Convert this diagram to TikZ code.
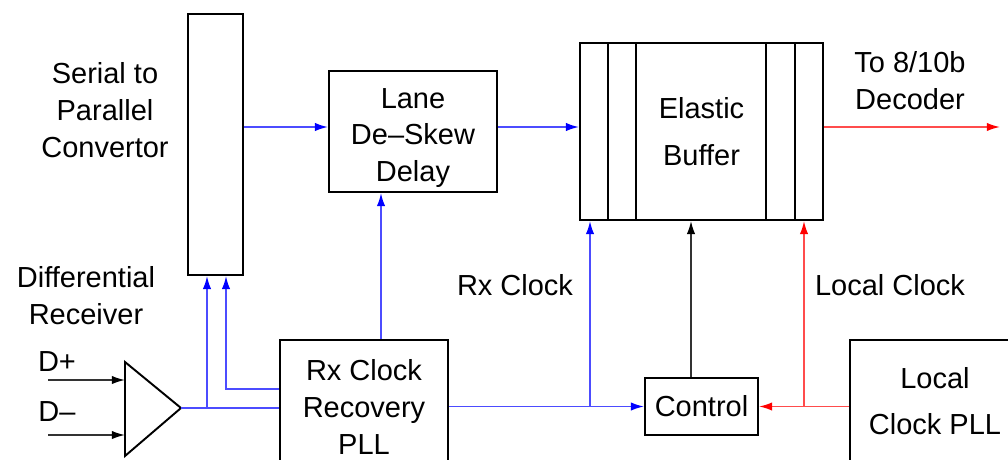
\documentclass[tikz,border=0pt]{standalone}
\usepackage{fontspec}
\setmainfont{Liberation Sans}
\usepackage{tikz}
\usetikzlibrary{arrows.meta,calc}

\begin{document}
\begin{tikzpicture}[y=-0.02cm,x=0.02cm,
    txt/.style={font=\fontsize{16.5}{21}\selectfont,align=center,inner sep=0pt},
    blk/.style={draw,line width=1.1pt,inner sep=0pt,font=\fontsize{16.5}{21}\selectfont,align=center},
    bsig/.style={blue!70,line width=1pt,-{Latex[blue,length=7.5pt,width=4.8pt]}},
    rsig/.style={red!70,line width=1pt,-{Latex[red,length=7.5pt,width=4.8pt]}},
    ksig/.style={black!80,line width=0.9pt,-{Latex[black,length=7.5pt,width=4.8pt]}}]
  \useasboundingbox (0,0) rectangle (1008,460);
  % blocks
  \node[blk,minimum width=1.10cm,minimum height=5.22cm] (s2p) at (215.5,144.5) {};
  \node[blk,minimum width=3.36cm,minimum height=2.42cm] (lane) at (413,131.5) {};
  \node[txt] (lanetxt) at (413,138) {Lane\\De--Skew\\Delay};
  \node[blk,minimum width=4.86cm,minimum height=3.54cm] (ebuf) at (701.5,131.5) {Elastic\\[6pt]Buffer};
  \foreach \x in {608,636,766,795} \draw[line width=0.8pt] (\x,43)--(\x,220);
  \node[blk,minimum width=3.36cm,minimum height=2.68cm] (rxpll) at (364,407) {Rx Clock\\Recovery\\PLL};
  \node[blk,minimum width=2.26cm,minimum height=1.14cm] (ctrl) at (701.5,406.5) {Control};
  \node[blk,minimum width=3.4cm,minimum height=2.8cm] (lpll) at (935,410) {};
  \node[txt] (lplltxt) at (935,401) {Local\\[5pt]Clock PLL};
  % receiver
  \draw[line width=1.1pt] (125,362)--(181,408)--(125,456)--cycle;
  \coordinate (amp) at (181,408);
  \coordinate (ampp) at (125,380);
  \coordinate (ampn) at (125,435);
  \coordinate (dp) at (48,380);
  \coordinate (dn) at (48,435);
  \draw[ksig] (dp)--(ampp);
  \draw[ksig] (dn)--(ampn);
  % labels
  \node[txt] (s2ptxt) at (105,110) {Serial to\\Parallel\\Convertor};
  \node[txt] (difftxt) at (86,296) {Differential\\Receiver};
  \node[txt] (dptxt) at (57,362) {D+};
  \node[txt] (dntxt) at (57,412) {D--};
  \node[txt] (dectxt) at (910,81) {To 8/10b\\Decoder};
  \node[txt] (rxtxt) at (515,285) {Rx Clock};
  \node[txt] (lctxt) at (890,285) {Local Clock};
  \coordinate (dec) at (1000,127);
  % data path
  \draw[bsig] (s2p.east |- 0,127)--(lane.west |- 0,127);
  \draw[bsig] (lane.east |- 0,127)--(ebuf.west |- 0,127);
  \draw[rsig] (ebuf.east |- dec)--(dec);
  \draw[blue!70,line width=1pt] (amp)--(amp -| rxpll.west);
  \draw[bsig] (207,0 |- amp)--(207,0 |- s2p.south);
  \draw[bsig] (rxpll.west |- 0,389) -| (226,0 |- s2p.south);
  % clocks
  \draw[bsig] (381,0 |- rxpll.north)--(381,0 |- lane.south);
  \draw[bsig] (ctrl.west -| rxpll.east)--(ctrl.west);
  \draw[bsig] (590,0 |- ctrl.west)--(590,0 |- ebuf.south);
  \draw[ksig] (691,0 |- ctrl.north)--(691,0 |- ebuf.south);
  \draw[rsig] (ctrl.east -| lpll.west)--(ctrl.east);
  \draw[rsig] (804,0 |- ctrl.east)--(804,0 |- ebuf.south);
\end{tikzpicture}
\end{document}
